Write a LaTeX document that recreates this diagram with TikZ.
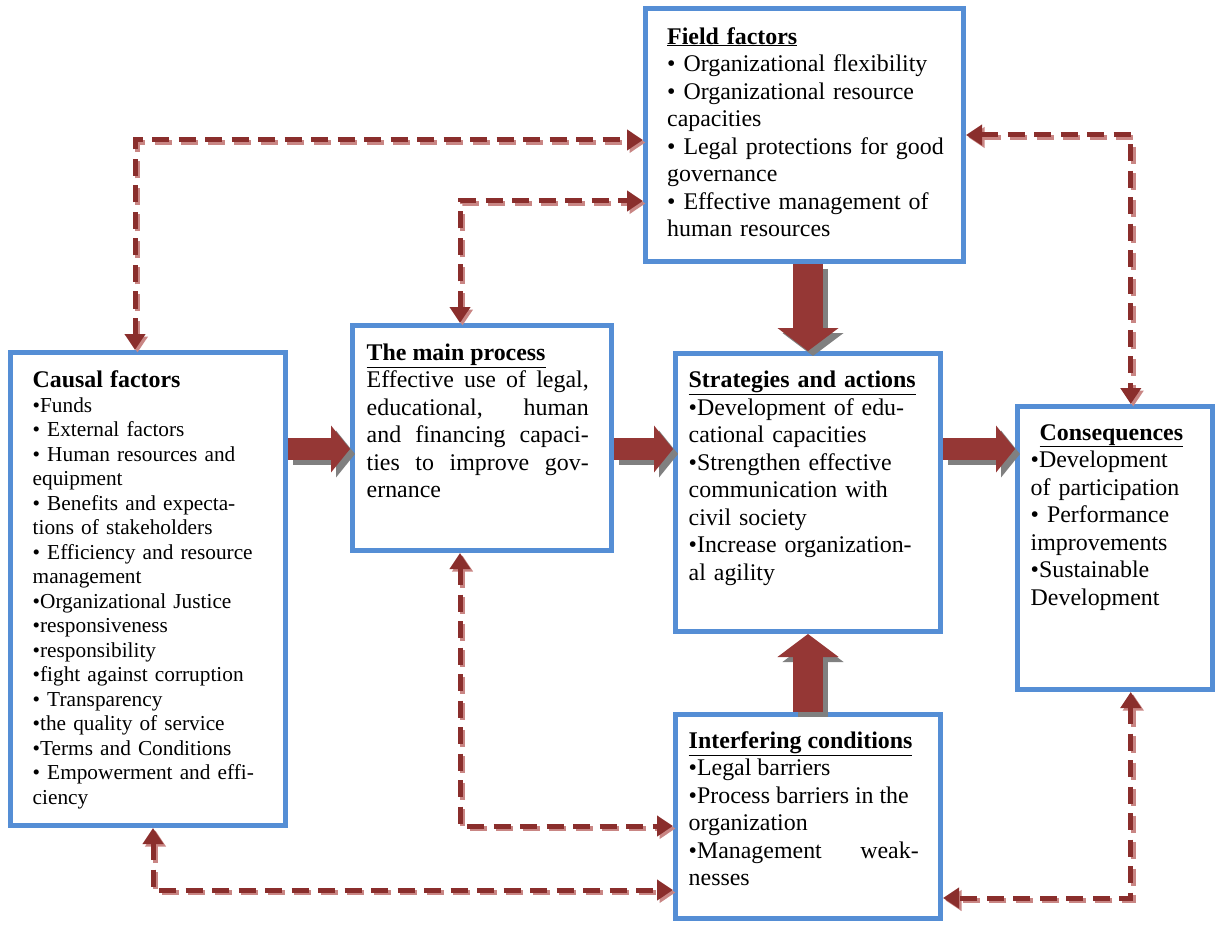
\documentclass[tikz,border=0pt]{standalone}
\usepackage{fontspec}
\setmainfont{Liberation Serif}
\usetikzlibrary{arrows.meta,calc}
\definecolor{boxblue}{HTML}{558ED5}
\definecolor{arrowred}{HTML}{953735}
\definecolor{shadowgray}{HTML}{808080}
\definecolor{dashred}{HTML}{8A2E2C}
\definecolor{dashpink}{HTML}{C98684}
\tikzset{
  box/.style={draw=boxblue, line width=5pt, fill=white, inner sep=0pt},
  txt/.style={anchor=north west, inner sep=0pt, align=left, font=\fontsize{23.9}{27.5}\selectfont},
  smalltxt/.style={txt, font=\fontsize{21.3}{24.5}\selectfont},
  dlink/.style={line width=5pt, dash pattern=on 17pt off 9.5pt, >={Triangle[width=20pt,length=16pt]}, <->},
  fat/.style={line width=22pt, -{Triangle[width=46pt,length=19pt]}},
  fatv/.style={line width=30pt, -{Triangle[width=60pt,length=23pt]}}
}

\begin{document}
\begin{tikzpicture}[x=1pt,y=-1pt]
  \useasboundingbox (0,0) rectangle (1215,925);

  % boxes
  \node[box, minimum width=275pt, minimum height=473pt] (causal) at (148,589) {};
  \node[box, minimum width=259pt, minimum height=225pt] (main) at (482,438) {};
  \node[box, minimum width=318pt, minimum height=253pt] (field) at (804.5,135) {};
  \node[box, minimum width=265pt, minimum height=278pt] (strat) at (808,492.5) {};
  \node[box, minimum width=265pt, minimum height=204pt] (inter) at (808,816.5) {};
  \node[box, minimum width=194.5pt, minimum height=283pt] (cons) at (1114.75,548) {};

  % texts
  \node[smalltxt, text width=245pt] (causaltxt) at ([shift={(24.5,20.5)}]causal.north west) {%
    {\fontsize{23.9}{27.5}\selectfont\textbf{Causal factors}}\\
    •Funds\\
    • External factors\\
    • Human resources and\\
    equipment\\
    • Benefits and expecta-\\
    tions of stakeholders\\
    • Efficiency and resource\\
    management\\
    •Organizational Justice\\
    •responsiveness\\
    •responsibility\\
    •fight against corruption\\
    • Transparency\\
    •the quality of service\\
    •Terms and Conditions\\
    • Empowerment and effi-\\
    ciency};
  \node[txt, text width=222pt, align=justify] (maintxt) at ([shift={(16.5,20.5)}]main.north west) {%
    \underline{\textbf{The main process}}\\
    Effective use of legal,\linebreak
    educational, human\linebreak
    and financing capaci-\linebreak
    ties to improve gov-\linebreak
    ernance};
  \node[txt, text width=295pt] (fieldtxt) at ([shift={(24,21)}]field.north west) {%
    \underline{\textbf{Field factors}}\\
    • Organizational flexibility\\
    • Organizational resource\\
    capacities\\
    • Legal protections for good\\
    governance\\
    • Effective management of\\
    human resources};
  \node[txt, text width=245pt] (strattxt) at ([shift={(15.5,20)}]strat.north west) {%
    \underline{\textbf{Strategies and actions}}\\
    •Development of edu-\\
    cational capacities\\
    •Strengthen effective\\
    communication with\\
    civil society\\
    •Increase organization-\\
    al agility};
  \node[txt, text width=230pt, align=justify] (intertxt) at ([shift={(15.5,19)}]inter.north west) {%
    \underline{\textbf{Interfering conditions}}\\
    •Legal barriers\\
    •Process barriers in the\\
    organization\\
    •Management weak-\linebreak
    nesses};
  \node[txt, text width=180pt] (constxt) at ([shift={(15.5,20)}]cons.north west) {%
    \hspace*{9pt}\underline{\textbf{Consequences}}\\
    •Development\\
    of participation\\
    • Performance\\
    improvements\\
    •Sustainable\\
    Development};

  % dashed two-way links, shadow first
  \foreach \dx/\col in {2.5/dashpink, 0/dashred}{
    \begin{scope}[transform canvas={shift={(\dx pt,-\dx pt)}}, dlink/.append style={draw=\col}]
      \draw[dlink] ([xshift=-13pt]causal.north) |- ([yshift=-5pt]field.west);
      \draw[dlink] ([xshift=-22pt]main.north) |- ([yshift=-66pt]field.west);
      \draw[dlink] (field.east) -| ([xshift=16pt]cons.north);
      \draw[dlink] ([xshift=-22pt]main.south) |- ([yshift=-9.5pt]inter.west);
      \draw[dlink] ([xshift=5pt]causal.south) |- ([yshift=-73.5pt]inter.west);
      \draw[dlink] ([xshift=16pt]cons.south) |- ([yshift=-81.5pt]inter.east);
    \end{scope}
  }

  % block arrows, shadow first
  \coordinate (midrow) at (0,449);
  \foreach \dx/\col in {5/shadowgray, 0/arrowred}{
    \begin{scope}[transform canvas={shift={(\dx pt,-\dx pt)}}, fat/.append style={draw=\col}, fatv/.append style={draw=\col}]
      \draw[fat] (causal.east |- midrow) -- (main.west |- midrow);
      \draw[fat] (main.east |- midrow) -- (strat.west |- midrow);
      \draw[fat] (strat.east |- midrow) -- (cons.west |- midrow);
      \draw[fatv] (strat.north |- field.south) -- (strat.north);
      \draw[fatv] (inter.north) -- (strat.south);
    \end{scope}
  }
\end{tikzpicture}
\end{document}
